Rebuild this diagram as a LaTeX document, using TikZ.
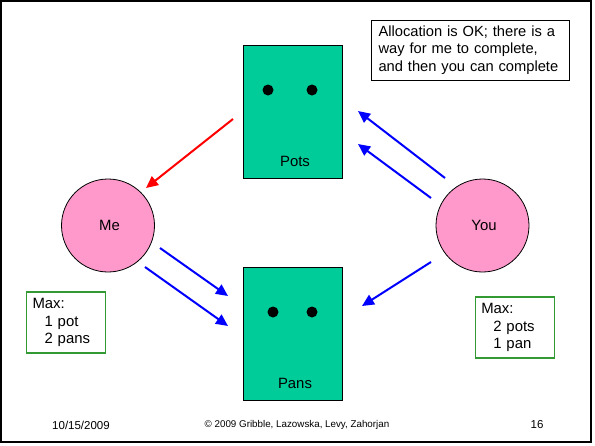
\documentclass[tikz,border=0pt]{standalone}
\usepackage{fontspec}
\setmainfont{Liberation Sans}
\usetikzlibrary{arrows.meta}
\definecolor{teal}{RGB}{0,204,153}
\definecolor{pinkc}{RGB}{255,153,204}
\definecolor{maxgreen}{RGB}{51,153,51}
\tikzset{
  res/.style={draw=black, line width=1pt, fill=teal, minimum width=99pt, minimum height=133pt, inner sep=0pt},
  proc/.style={draw=black, line width=0.8pt, fill=pinkc, circle, minimum size=93pt, inner sep=0pt, font=\fontsize{14.9}{17.8}\selectfont},
  dotc/.style={circle, fill=black, minimum size=11pt, inner sep=0pt},
  lbl/.style={font=\fontsize{14.9}{17.8}\selectfont, inner sep=0pt},
  maxbox/.style={draw=maxgreen, line width=1.2pt, minimum width=79pt, minimum height=61pt, text width=67pt, inner xsep=6pt, inner ysep=0pt, align=left, font=\fontsize{14.9}{17.8}\selectfont},
  notebox/.style={draw=black, line width=0.8pt, minimum width=197.5pt, minimum height=60pt, text width=183.5pt, inner xsep=7pt, inner ysep=0pt, align=left, font=\fontsize{14.7}{17.8}\selectfont},
  req/.style={draw=blue, line width=2pt, -{Triangle[length=12pt,width=11pt]}},
  held/.style={draw=red, line width=2pt, -{Triangle[length=12pt,width=11pt]}},
  foot/.style={inner sep=0pt, font=\fontsize{11.5}{13}\selectfont}
}
\begin{document}
\begin{tikzpicture}[x=1pt,y=-1pt]
\useasboundingbox (0,0) rectangle (595,445);
\draw[line width=2.2pt] (1.1,1.1) rectangle (591,441.9);
% resources
\node[res] (pots) at (292.5,111.5) {};
\node[res] (pans) at (292.5,333.5) {};
\node[lbl] (potslbl) at (295,161) {Pots};
\node[lbl] (panslbl) at (295,383) {Pans};
\node[dotc] (pd1) at (268,90) {};
\node[dotc] (pd2) at (312,90) {};
\node[dotc] (nd1) at (273,312) {};
\node[dotc] (nd2) at (312,312) {};
% processes
\node[proc] (me) at (108,225.5) {\hspace*{3pt}Me};
\node[proc] (you) at (482.5,225.5) {\hspace*{3pt}You};
% boxes
\node[notebox] (note) at (470.25,50) {\mbox{Allocation is OK; there is a}\\\mbox{way for me to complete,}\\\mbox{and then you can complete}};
\node[maxbox] (maxme) at (66,322.5) {Max:\\\hspace*{12pt}1 pot\\\hspace*{12pt}2 pans};
\node[maxbox] (maxyou) at (514.75,327.5) {Max:\\\hspace*{12pt}2 pots\\\hspace*{12pt}1 pan};
% connector ends
\coordinate (r1s) at (233,119); \coordinate (r1e) at (146,188);
\coordinate (b1s) at (445,178); \coordinate (b1e) at (358,111);
\coordinate (b2s) at (431,198); \coordinate (b2e) at (358,144);
\coordinate (b3s) at (160,248); \coordinate (b3e) at (228,296);
\coordinate (b4s) at (145,267); \coordinate (b4e) at (228,326);
\coordinate (b5s) at (431,262); \coordinate (b5e) at (362,306);
\draw[held] (r1s) -- (r1e);
\draw[req] (b1s) -- (b1e);
\draw[req] (b2s) -- (b2e);
\draw[req] (b3s) -- (b3e);
\draw[req] (b4s) -- (b4e);
\draw[req] (b5s) -- (b5e);
% footer
\node[foot] (date) at (81,425) {10/15/2009};
\node[inner sep=0pt, font=\fontsize{9.8}{12}\selectfont] (copy) at (297,424.5) {© 2009 Gribble, Lazowska, Levy, Zahorjan};
\node[foot] (page) at (537,425) {16};
\end{tikzpicture}
\end{document}
